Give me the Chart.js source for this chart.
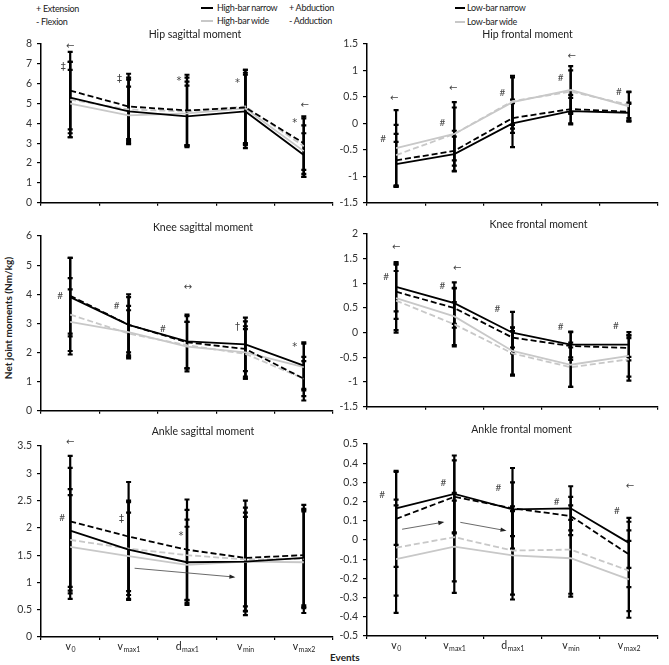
<!DOCTYPE html>
<html>
<head>
<meta charset="utf-8">
<script src="https://cdn.jsdelivr.net/npm/chart.js@4.4.0/dist/chart.umd.min.js"></script>
<style>
body { margin: 0; background: #fff; width: 669px; height: 665px; position: relative; overflow: hidden; font-family: Lato, 'Liberation Sans', sans-serif; }
.panel { position: absolute; }
.txt { position: absolute; font-size: 10px; line-height: 12px; color: #222; white-space: nowrap; }
.ley { font-size: 9px; letter-spacing: -0.3px; }
.muestra { position: absolute; height: 0; width: 12px; }
</style>
</head>
<body>

<div class="txt ley" style="left:36px;top:3px">+ Extension</div>
<div class="txt ley" style="left:36px;top:16px">- Flexion</div>
<div class="muestra" style="left:201px;top:7px;border-top:2px solid #000"></div>
<div class="txt ley" style="left:217px;top:2px">High-bar narrow</div>
<div class="muestra" style="left:201px;top:20px;border-top:2px solid #c8c8c8"></div>
<div class="txt ley" style="left:217px;top:15px">High-bar wide</div>
<div class="txt ley" style="left:289px;top:2px">+ Abduction</div>
<div class="txt ley" style="left:289px;top:15px">- Adduction</div>
<div class="muestra" style="left:455px;top:7px;width:10px;border-top:2px dashed #000"></div>
<div class="txt ley" style="left:467px;top:2px">Low-bar narrow</div>
<div class="muestra" style="left:455px;top:21px;width:10px;border-top:2px dashed #c8c8c8"></div>
<div class="txt ley" style="left:467px;top:16px">Low-bar wide</div>

<div class="txt" style="left:-57px;top:312px;width:130px;text-align:center;font-weight:bold;transform:rotate(-90deg)">Net joint moments (Nm/kg)</div>
<div class="txt" style="left:330px;top:651px;font-weight:bold">Events</div>

<script>
// ===== DATOS =====
const eventos = [['v', '0'], ['v', 'max1'], ['d', 'max1'], ['v', 'min'], ['v', 'max2']];
const series = ['High-bar narrow', 'Low-bar narrow', 'High-bar wide', 'Low-bar wide'];

// Cadera sagital (orden: HBN, LBN, HBW, LBW)
const hipSagMedia = [
    [5.3, 4.6, 4.35, 4.6, 2.4],
    [5.65, 4.85, 4.65, 4.8, 3.0],
    [5.0, 4.4, 4.5, 4.75, 2.6],
    [5.2, 4.7, 4.6, 4.85, 2.85]
];
const hipSagSD = [
    [1.8, 1.6, 1.55, 1.85, 1.1],
    [1.95, 1.65, 1.8, 1.9, 1.35],
    [1.7, 1.45, 1.6, 1.8, 1.3],
    [1.9, 1.6, 1.7, 1.85, 1.4]
];
const hipSagTicks = [0, 8, 1];

// Cadera frontal
const hipFroMedia = [
    [-0.77, -0.58, 0.0, 0.23, 0.2],
    [-0.7, -0.52, 0.1, 0.27, 0.22],
    [-0.47, -0.2, 0.4, 0.63, 0.32],
    [-0.6, -0.2, 0.42, 0.6, 0.35]
];
const hipFroSD = [
    [0.42, 0.33, 0.45, 0.25, 0.17],
    [0.5, 0.38, 0.28, 0.27, 0.17],
    [0.72, 0.6, 0.5, 0.45, 0.27],
    [0.57, 0.5, 0.45, 0.4, 0.25]
];
const hipFroTicks = [-1.5, 1.5, 0.5];

// Rodilla sagital
const kneeSagMedia = [
    [3.9, 2.95, 2.38, 2.28, 1.55],
    [3.95, 2.95, 2.35, 2.12, 1.1],
    [3.05, 2.7, 2.2, 2.0, 1.5],
    [3.3, 2.65, 2.25, 1.95, 1.1]
];
const kneeSagSD = [
    [1.35, 1.05, 0.92, 0.92, 0.8],
    [1.3, 0.95, 0.9, 0.95, 0.75],
    [1.12, 0.9, 0.85, 0.9, 0.8],
    [1.25, 0.8, 0.8, 0.85, 0.6]
];
const kneeSagTicks = [0, 6, 1];

// Rodilla frontal
const kneeFroMedia = [
    [0.93, 0.6, 0.0, -0.24, -0.24],
    [0.83, 0.5, -0.1, -0.27, -0.31],
    [0.7, 0.33, -0.37, -0.65, -0.47],
    [0.65, 0.17, -0.42, -0.7, -0.54]
];
const kneeFroSD = [
    [0.5, 0.42, 0.42, 0.26, 0.25],
    [0.55, 0.4, 0.2, 0.28, 0.25],
    [0.7, 0.58, 0.48, 0.45, 0.42],
    [0.6, 0.45, 0.45, 0.4, 0.43]
];
const kneeFroTicks = [-1.5, 2, 0.5];

// Tobillo sagital
const ankleSagMedia = [
    [1.95, 1.6, 1.37, 1.38, 1.45],
    [2.12, 1.84, 1.6, 1.45, 1.5],
    [1.65, 1.48, 1.32, 1.38, 1.37],
    [1.78, 1.62, 1.5, 1.42, 1.43]
];
const ankleSagSD = [
    [1.15, 0.9, 0.78, 0.9, 0.9],
    [1.2, 1.0, 0.92, 1.05, 0.92],
    [0.95, 0.8, 0.7, 0.82, 0.93],
    [0.93, 0.85, 0.83, 0.95, 0.9]
];
const ankleSagTicks = [0, 3.5, 0.5];

// Tobillo frontal
const ankleFroMedia = [
    [0.165, 0.24, 0.16, 0.165, -0.015],
    [0.11, 0.225, 0.165, 0.125, -0.075],
    [-0.1, -0.035, -0.08, -0.095, -0.205],
    [-0.04, 0.015, -0.055, -0.05, -0.16]
];
const ankleFroSD = [
    [0.19, 0.2, 0.14, 0.115, 0.13],
    [0.25, 0.19, 0.21, 0.1, 0.17],
    [0.28, 0.24, 0.23, 0.2, 0.2],
    [0.25, 0.23, 0.23, 0.23, 0.21]
];
const ankleFroTicks = [-0.5, 0.5, 0.1];

// Notas de significancia: [evento, valor, simbolo, desplazamiento x]
const hipSagNotas = [[0, 7.9, '←', 0], [0, 6.8, '‡', -7], [1, 6.2, '‡', -9], [2, 6.1, '*', -8], [3, 6.0, '*', -8], [4, 4.0, '*', -9], [4, 4.9, '←', 1]];
const hipFroNotas = [[0, 0.48, '←', -2], [0, -0.3, '#', -13], [1, 0.67, '←', -1], [1, 0.02, '#', -12], [2, 0.58, '#', -10], [3, 0.86, '#', -10], [3, 1.26, '←', 1], [4, 0.6, '#', -10]];
const kneeSagNotas = [[0, 3.94, '#', -10], [1, 3.59, '#', -12], [2, 4.22, '↔', 1], [2, 2.82, '#', -24], [3, 2.85, '†', -8], [4, 2.16, '*', -9]];
const kneeFroNotas = [[0, 1.72, '←', 0], [0, 1.14, '#', -10], [1, 1.3, '←', 3], [1, 0.95, '#', -12], [2, 0.49, '#', -15], [3, 0.11, '#', -10], [4, 0.15, '#', -13]];
const ankleSagNotas = [[0, 3.56, '←', 0], [0, 2.18, '#', -8], [1, 2.15, '‡', -7], [2, 1.85, '*', -6]];
const ankleFroNotas = [[0, 0.233, '#', -14], [1, 0.3, '#', -11], [2, 0.27, '#', -14], [3, 0.2, '#', -14], [4, 0.15, '#', -12], [4, 0.28, '←', 1]];

// Flechas de tendencia: [evento ini, valor ini, dx ini, evento fin, valor fin, dx fin]
const ankleSagFlechas = [[1, 1.26, 6, 3, 1.1, -12]];
const ankleFroFlechas = [[0, 0.056, 6, 1, 0.092, -12], [1, 0.092, 6, 2, 0.05, -8]];

// ===== ESTILOS =====
const estilos = [
    { color: '#000', dash: [] },
    { color: '#000', dash: [6, 3] },
    { color: '#c8c8c8', dash: [] },
    { color: '#c8c8c8', dash: [6, 3] }
];

// ===== PLUGIN: barras de error, notas, titulos, etiquetas =====
const extrasPanel = {
    id: 'extrasPanel',
    beforeDatasetsDraw(chart, args, opts) {
        const { ctx, scales: { x, y } } = chart;
        ctx.save();
        ctx.strokeStyle = '#000';
        ctx.lineWidth = 2.2;
        opts.sd.forEach((fila, s) => {
            const medias = chart.data.datasets[s].data;
            fila.forEach((d, i) => {
                const px = x.getPixelForValue(i);
                const arriba = y.getPixelForValue(medias[i] + d);
                const abajo = y.getPixelForValue(medias[i] - d);
                ctx.beginPath();
                ctx.moveTo(px, arriba); ctx.lineTo(px, abajo);
                ctx.moveTo(px - 2.5, arriba); ctx.lineTo(px + 2.5, arriba);
                ctx.moveTo(px - 2.5, abajo); ctx.lineTo(px + 2.5, abajo);
                ctx.stroke();
            });
        });
        ctx.restore();
    },
    afterDraw(chart, args, opts) {
        const { ctx, chartArea, scales: { x, y } } = chart;
        ctx.save();

        // titulo
        ctx.fillStyle = '#222';
        ctx.font = '10.5px Lato, sans-serif';
        ctx.textAlign = 'center';
        ctx.textBaseline = 'middle';
        ctx.fillText(opts.titulo, (chartArea.left + chartArea.right) / 2 + opts.tdx, chartArea.top - opts.tdy);

        // notas
        ctx.fillStyle = '#444';
        opts.notas.forEach(n => {
            ctx.font = n[2] === '#' ? '10px Lato, sans-serif' : '10px "DejaVu Sans", sans-serif';
            ctx.fillText(n[2], x.getPixelForValue(n[0]) + n[3], y.getPixelForValue(n[1]));
        });

        // flechas
        ctx.strokeStyle = '#444';
        ctx.fillStyle = '#222';
        ctx.lineWidth = 0.8;
        opts.flechas.forEach(f => {
            const x0 = x.getPixelForValue(f[0]) + f[2], y0 = y.getPixelForValue(f[1]);
            const x1 = x.getPixelForValue(f[3]) + f[5], y1 = y.getPixelForValue(f[4]);
            const ang = Math.atan2(y1 - y0, x1 - x0);
            ctx.beginPath();
            ctx.moveTo(x0, y0); ctx.lineTo(x1, y1);
            ctx.stroke();
            ctx.beginPath();
            ctx.moveTo(x1 + 2, y1 + 2 * Math.tan(ang));
            ctx.lineTo(x1 - 4 * Math.cos(ang) + 2.2 * Math.sin(ang), y1 - 4 * Math.sin(ang) - 2.2 * Math.cos(ang));
            ctx.lineTo(x1 - 4 * Math.cos(ang) - 2.2 * Math.sin(ang), y1 - 4 * Math.sin(ang) + 2.2 * Math.cos(ang));
            ctx.closePath();
            ctx.fill();
        });

        // etiquetas del eje x con subindice
        if (opts.etiquetas) {
            ctx.fillStyle = '#222';
            ctx.textAlign = 'left';
            ctx.textBaseline = 'alphabetic';
            eventos.forEach((ev, i) => {
                ctx.font = '10.5px Lato, sans-serif';
                const wb = ctx.measureText(ev[0]).width;
                ctx.font = '7px Lato, sans-serif';
                const ws = ctx.measureText(ev[1]).width;
                const x0 = x.getPixelForValue(i) - (wb + ws) / 2;
                const base = chartArea.bottom + 13;
                ctx.font = '10.5px Lato, sans-serif';
                ctx.fillText(ev[0], x0, base);
                ctx.font = '7px Lato, sans-serif';
                ctx.fillText(ev[1], x0 + wb + 0.5, base + 2);
            });
        }
        ctx.restore();
    }
};

// ===== PANELES =====
const paneles = [
    { caja: [0, 26, 335, 188], ejeY: 41, padTop: 18, padRight: 2, ejeX: 10, ticks: hipSagTicks, media: hipSagMedia, sd: hipSagSD, notas: hipSagNotas, flechas: [], titulo: 'Hip sagittal moment', tdx: 8, tdy: 9, etiquetas: false },
    { caja: [334, 26, 335, 188], ejeY: 33, padTop: 18, padRight: 11, ejeX: 10, ticks: hipFroTicks, media: hipFroMedia, sd: hipFroSD, notas: hipFroNotas, flechas: [], titulo: 'Hip frontal moment', tdx: 15, tdy: 9, etiquetas: false },
    { caja: [0, 216, 335, 206], ejeY: 41, padTop: 20, padRight: 2, ejeX: 10, ticks: kneeSagTicks, media: kneeSagMedia, sd: kneeSagSD, notas: kneeSagNotas, flechas: [], titulo: 'Knee sagittal moment', tdx: 16, tdy: 8.5, etiquetas: false },
    { caja: [334, 216, 335, 202], ejeY: 33, padTop: 18, padRight: 11, ejeX: 10, ticks: kneeFroTicks, media: kneeFroMedia, sd: kneeFroSD, notas: kneeFroNotas, flechas: [], titulo: 'Knee frontal moment', tdx: 26, tdy: 9, etiquetas: false },
    { caja: [0, 424, 335, 237], ejeY: 41, padTop: 22, padRight: 2, ejeX: 24, ticks: ankleSagTicks, media: ankleSagMedia, sd: ankleSagSD, notas: ankleSagNotas, flechas: ankleSagFlechas, titulo: 'Ankle sagittal moment', tdx: 16, tdy: 14.5, etiquetas: true },
    { caja: [334, 424, 335, 236], ejeY: 33, padTop: 20, padRight: 11, ejeX: 24, ticks: ankleFroTicks, media: ankleFroMedia, sd: ankleFroSD, notas: ankleFroNotas, flechas: ankleFroFlechas, titulo: 'Ankle frontal moment', tdx: 9, tdy: 14.5, etiquetas: true }
];

function crearPanel(p) {
    const div = document.createElement('div');
    div.className = 'panel';
    div.style.left = p.caja[0] + 'px';
    div.style.top = p.caja[1] + 'px';
    const canvas = document.createElement('canvas');
    canvas.width = p.caja[2];
    canvas.height = p.caja[3];
    div.appendChild(canvas);
    document.body.appendChild(div);

    new Chart(canvas.getContext('2d'), {
        type: 'line',
        data: {
            labels: eventos.map(e => e[0] + e[1]),
            datasets: p.media.map((m, s) => ({
                label: series[s],
                data: m,
                borderColor: estilos[s].color,
                borderDash: estilos[s].dash,
                borderWidth: 1.8,
                pointRadius: 0,
                tension: 0,
                fill: false
            }))
        },
        options: {
            responsive: false,
            animation: false,
            layout: { padding: { top: p.padTop, right: p.padRight, left: 0, bottom: 0 } },
            plugins: {
                legend: { display: false },
                tooltip: { enabled: false },
                extrasPanel: { sd: p.sd, notas: p.notas, flechas: p.flechas, titulo: p.titulo, tdx: p.tdx, tdy: p.tdy, etiquetas: p.etiquetas }
            },
            scales: {
                x: {
                    offset: true,
                    grid: { offset: true, drawOnChartArea: false, drawTicks: true, tickLength: 3, color: '#000', lineWidth: 1.2 },
                    border: { display: true, color: '#000', width: 1.5 },
                    ticks: { display: false },
                    afterFit: s => { s.height = p.ejeX; }
                },
                y: {
                    min: p.ticks[0],
                    max: p.ticks[1],
                    grid: { drawOnChartArea: false, drawTicks: true, tickLength: 4, color: '#000', lineWidth: 1.2 },
                    border: { display: true, color: '#000', width: 1.5 },
                    ticks: {
                        stepSize: p.ticks[2],
                        padding: 5,
                        color: '#333',
                        font: { family: 'Lato, sans-serif', size: 10.5 },
                        callback: v => String(Math.round(v * 10) / 10)
                    },
                    afterFit: s => { s.width = p.ejeY; }
                }
            }
        },
        plugins: [extrasPanel]
    });
}

paneles.forEach(crearPanel);
</script>
</body>
</html>
